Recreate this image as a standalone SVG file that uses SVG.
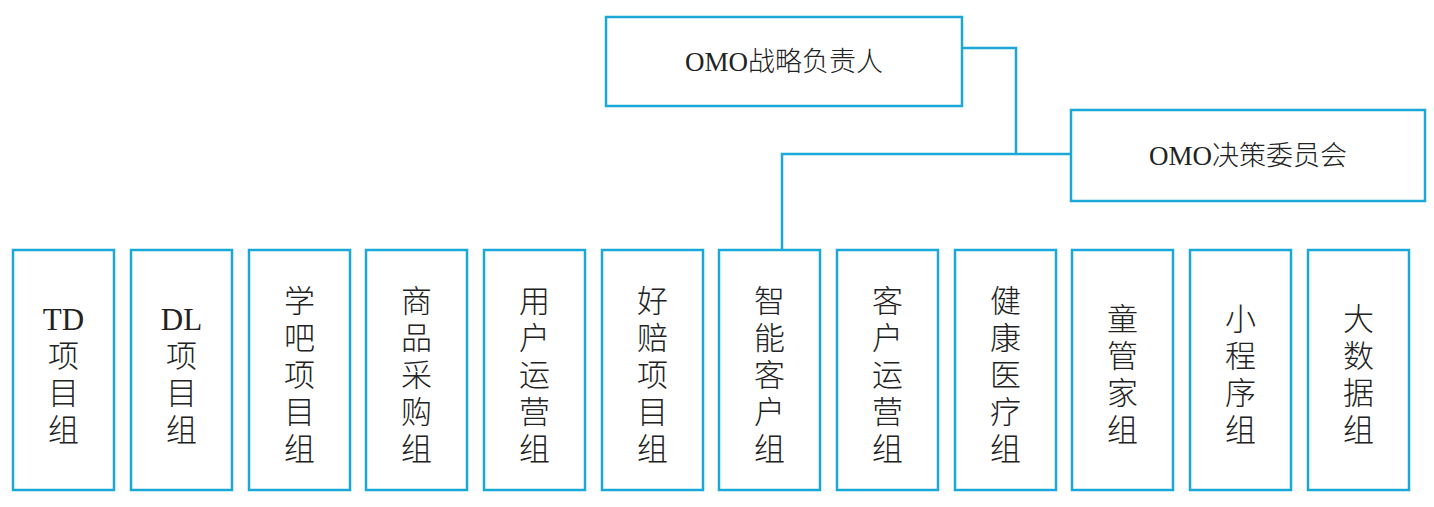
<svg xmlns="http://www.w3.org/2000/svg" width="1434" height="507" viewBox="0 0 1434 507">
<style>
.b{fill:#fff;stroke:#1aa8d8;stroke-width:2.5}
.t{font-family:"Liberation Serif","Noto Sans CJK SC",serif;font-weight:300;fill:#222;text-anchor:middle}
.h{font-size:27px}
.v{font-size:31px}
.c{fill:none;stroke:#1aa8d8;stroke-width:2.5}
</style>
<rect width="1434" height="507" fill="#fff"/>
<g id="connectors">
<path class="c" d="M962 48H1016V154M1071 154H782V250"/>
</g>
<g id="n-top"><rect class="b" x="606" y="17" width="356" height="89"/><text class="t h" x="784" y="71">OMO战略负责人</text></g>
<g id="n-committee"><rect class="b" x="1071" y="110" width="354" height="91"/><text class="t h" x="1248" y="165">OMO决策委员会</text></g>
<g id="n1"><rect class="b" x="13" y="250" width="101" height="240"/><text class="t v" x="63.5"><tspan x="63.5" y="330">TD</tspan><tspan x="63.5" y="367">项</tspan><tspan x="63.5" y="404">目</tspan><tspan x="63.5" y="441">组</tspan></text></g>
<g id="n2"><rect class="b" x="131" y="250" width="101" height="240"/><text class="t v"><tspan x="181.5" y="330">DL</tspan><tspan x="181.5" y="367">项</tspan><tspan x="181.5" y="404">目</tspan><tspan x="181.5" y="441">组</tspan></text></g>
<g id="n3"><rect class="b" x="249" y="250" width="101" height="240"/><text class="t v"><tspan x="299.5" y="312">学</tspan><tspan x="299.5" y="349">吧</tspan><tspan x="299.5" y="386">项</tspan><tspan x="299.5" y="423">目</tspan><tspan x="299.5" y="460">组</tspan></text></g>
<g id="n4"><rect class="b" x="366" y="250" width="101" height="240"/><text class="t v"><tspan x="416.5" y="312">商</tspan><tspan x="416.5" y="349">品</tspan><tspan x="416.5" y="386">采</tspan><tspan x="416.5" y="423">购</tspan><tspan x="416.5" y="460">组</tspan></text></g>
<g id="n5"><rect class="b" x="484" y="250" width="101" height="240"/><text class="t v"><tspan x="534.5" y="312">用</tspan><tspan x="534.5" y="349">户</tspan><tspan x="534.5" y="386">运</tspan><tspan x="534.5" y="423">营</tspan><tspan x="534.5" y="460">组</tspan></text></g>
<g id="n6"><rect class="b" x="602" y="250" width="101" height="240"/><text class="t v"><tspan x="652.5" y="312">好</tspan><tspan x="652.5" y="349">赔</tspan><tspan x="652.5" y="386">项</tspan><tspan x="652.5" y="423">目</tspan><tspan x="652.5" y="460">组</tspan></text></g>
<g id="n7"><rect class="b" x="719" y="250" width="101" height="240"/><text class="t v"><tspan x="769.5" y="312">智</tspan><tspan x="769.5" y="349">能</tspan><tspan x="769.5" y="386">客</tspan><tspan x="769.5" y="423">户</tspan><tspan x="769.5" y="460">组</tspan></text></g>
<g id="n8"><rect class="b" x="837" y="250" width="101" height="240"/><text class="t v"><tspan x="887.5" y="312">客</tspan><tspan x="887.5" y="349">户</tspan><tspan x="887.5" y="386">运</tspan><tspan x="887.5" y="423">营</tspan><tspan x="887.5" y="460">组</tspan></text></g>
<g id="n9"><rect class="b" x="955" y="250" width="101" height="240"/><text class="t v"><tspan x="1005.5" y="312">健</tspan><tspan x="1005.5" y="349">康</tspan><tspan x="1005.5" y="386">医</tspan><tspan x="1005.5" y="423">疗</tspan><tspan x="1005.5" y="460">组</tspan></text></g>
<g id="n10"><rect class="b" x="1072" y="250" width="101" height="240"/><text class="t v"><tspan x="1122.5" y="330">童</tspan><tspan x="1122.5" y="367">管</tspan><tspan x="1122.5" y="404">家</tspan><tspan x="1122.5" y="441">组</tspan></text></g>
<g id="n11"><rect class="b" x="1190" y="250" width="101" height="240"/><text class="t v"><tspan x="1240.5" y="330">小</tspan><tspan x="1240.5" y="367">程</tspan><tspan x="1240.5" y="404">序</tspan><tspan x="1240.5" y="441">组</tspan></text></g>
<g id="n12"><rect class="b" x="1308" y="250" width="101" height="240"/><text class="t v"><tspan x="1358.5" y="330">大</tspan><tspan x="1358.5" y="367">数</tspan><tspan x="1358.5" y="404">据</tspan><tspan x="1358.5" y="441">组</tspan></text></g>
</svg>
